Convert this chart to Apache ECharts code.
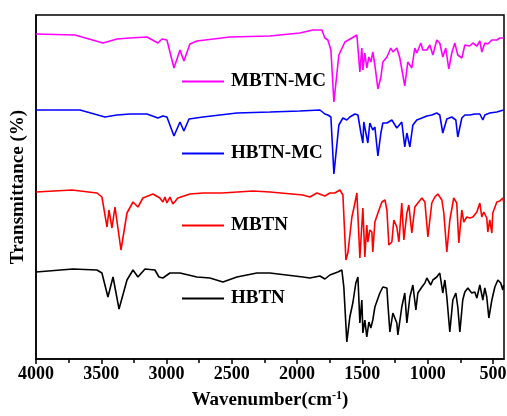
<!DOCTYPE html>
<html>
<head>
<meta charset="utf-8">
<script src="https://cdn.jsdelivr.net/npm/echarts@6/dist/echarts.min.js"></script>
<style>html,body{margin:0;padding:0;background:#fff}#c{width:507px;height:416px}</style>
</head>
<body>
<div id="c"></div>
<script>
// Wavenumber (cm-1) ticks
const majorTicks = [500, 1000, 1500, 2000, 2500, 3000, 3500, 4000];
const minorTicks = [750, 1250, 1750, 2250, 2750, 3250, 3750];
const seriesNames = ['MBTN-MC', 'HBTN-MC', 'MBTN', 'HBTN'];

// [wavenumber, transmittance (arbitrary offset units)]
const mbtnMC = [[4000,325],[3701,324],[3487,316],[3380,320],[3280,321],[3150,322],[3066,316],[3035,320],[2997,319],[2943,291],[2897,309],[2867,298],[2821,315],[2767,318],[2515,322],[2208,323],[1979,326],[1879,329],[1810,329],[1787,321],[1764,319],[1741,309],[1718,257],[1680,304],[1634,317],[1580,321],[1542,324],[1519,287],[1504,311],[1496,289],[1481,306],[1466,291],[1450,302],[1435,297],[1420,307],[1404,294],[1381,270],[1358,282],[1343,297],[1312,302],[1282,311],[1266,307],[1236,311],[1213,301],[1175,273],[1152,297],[1121,291],[1098,311],[1083,306],[1052,316],[1037,309],[1006,309],[983,314],[960,304],[930,319],[907,316],[884,302],[861,311],[838,290],[815,306],[792,316],[769,304],[738,301],[715,314],[677,313],[654,316],[623,313],[600,318],[585,307],[562,316],[539,315],[508,319],[470,319],[447,321],[418,321]];

const hbtnMC = [[4000,249],[3663,249],[3472,242],[3380,244],[3280,245],[3150,245],[3066,241],[3028,243],[2997,242],[2943,223],[2897,237],[2867,228],[2828,240],[2721,242],[2461,246],[2208,247],[1979,248],[1825,249],[1787,245],[1764,244],[1741,242],[1718,185],[1680,234],[1649,241],[1619,239],[1596,242],[1557,245],[1534,244],[1511,226],[1496,216],[1489,237],[1473,226],[1458,216],[1443,236],[1420,229],[1404,232],[1381,203],[1358,226],[1343,236],[1312,236],[1274,239],[1236,231],[1198,237],[1175,212],[1159,226],[1136,212],[1113,234],[1083,239],[1044,241],[1006,243],[968,244],[930,246],[907,244],[884,226],[853,240],[815,242],[784,239],[769,222],[738,241],[715,244],[677,244],[639,245],[600,245],[577,239],[562,244],[524,246],[470,247],[418,249]];

const mbtn = [[4000,167],[3724,169],[3533,166],[3495,162],[3456,132],[3441,149],[3418,131],[3395,152],[3380,152],[3349,109],[3303,146],[3257,157],[3219,152],[3181,161],[3104,165],[3051,161],[3028,157],[3012,162],[2997,156],[2974,162],[2951,155],[2913,161],[2821,165],[2721,166],[2576,166],[2338,168],[2208,167],[1956,164],[1902,162],[1848,166],[1787,163],[1749,166],[1711,166],[1672,169],[1649,164],[1626,99],[1611,106],[1580,142],[1557,156],[1542,166],[1519,101],[1496,151],[1481,102],[1466,134],[1458,117],[1443,129],[1427,127],[1420,107],[1404,137],[1381,146],[1350,157],[1327,159],[1312,149],[1297,114],[1274,117],[1259,139],[1236,132],[1220,117],[1198,156],[1182,119],[1159,146],[1144,154],[1121,126],[1098,152],[1075,156],[1044,161],[1021,157],[998,122],[968,156],[945,162],[922,165],[891,159],[876,146],[853,107],[830,139],[800,161],[777,156],[761,116],[738,149],[723,137],[700,142],[677,141],[654,142],[623,147],[600,156],[585,142],[570,147],[547,141],[539,127],[524,139],[508,126],[501,146],[470,157],[447,158],[424,161],[418,157]];

const hbtn = [[4000,87],[3717,90],[3533,89],[3495,86],[3449,62],[3410,82],[3364,50],[3303,79],[3257,89],[3219,82],[3165,90],[3089,89],[3058,82],[3028,81],[2974,86],[2897,86],[2767,82],[2668,81],[2568,77],[2461,82],[2308,86],[2208,86],[1956,82],[1902,81],[1825,83],[1787,80],[1749,84],[1688,87],[1657,89],[1642,72],[1619,17],[1596,42],[1573,56],[1550,76],[1534,82],[1519,36],[1504,59],[1496,26],[1481,39],[1466,22],[1450,37],[1435,31],[1420,39],[1404,52],[1389,54],[1366,66],[1343,72],[1312,71],[1305,56],[1289,27],[1266,46],[1236,36],[1228,24],[1198,52],[1175,66],[1159,36],[1136,62],[1113,74],[1090,49],[1075,66],[1044,72],[1021,76],[1006,81],[976,74],[960,79],[930,82],[907,86],[884,66],[868,79],[853,62],[830,27],[807,59],[784,66],[769,52],[753,27],[731,59],[715,67],[692,71],[662,66],[639,67],[623,61],[600,74],[577,59],[562,71],[547,62],[531,41],[508,59],[485,72],[462,79],[440,76],[424,69],[418,74]];

const seriesData = [mbtnMC, hbtnMC, mbtn, hbtn];
const colors = ['#FF00FF', '#0000FF', '#FF0000', '#000000'];
const legendTops = [72, 144, 216, 289];

const FONT = '"Liberation Serif", "Times New Roman", serif';

const chart = echarts.init(document.getElementById('c'), null, {renderer: 'canvas'});
const option = {
  animation: false,
  backgroundColor: '#fff',
  grid: {left: 36, right: 3, top: 15, bottom: 57, containLabel: false, outerBoundsMode: 'none',
    show: true, borderColor: '#000', borderWidth: 1.5, backgroundColor: 'transparent'},
  legend: seriesNames.map((n, i) => ({
    data: [n], left: 182, top: legendTops[i], padding: 0,
    icon: 'rect', itemWidth: 42, itemHeight: 2, itemGap: 6,
    itemStyle: {color: colors[i], borderWidth: 0},
    textStyle: {fontFamily: FONT, fontWeight: 'bold', fontSize: 19, color: '#000', padding: [0,0,0,2]}
  })),
  xAxis: [{
    type: 'value', min: 415, max: 4000, inverse: true,
    name: 'Wavenumber(cm{sup|-1})', nameLocation: 'middle', nameGap: 31,
    nameTextStyle: {fontFamily: FONT, fontWeight: 'bold', fontSize: 19, color: '#000',
      rich: {sup: {fontFamily: FONT, fontWeight: 'bold', fontSize: 12, verticalAlign: 'top', padding: [0,0,8,0], color: '#000'}}},
    axisLine: {show: true, lineStyle: {color: '#000', width: 1.5}},
    axisTick: {show: true, inside: false, length: 5, lineStyle: {color: '#000', width: 1.5}, customValues: majorTicks},
    axisLabel: {show: true, margin: 6, fontFamily: FONT, fontWeight: 'bold', fontSize: 18, color: '#000',
      customValues: majorTicks, formatter: v => String(v), hideOverlap: false},
    splitLine: {show: false}
  }, {
    type: 'value', min: 415, max: 4000, inverse: true, position: 'bottom', offset: 0,
    axisLine: {show: false, onZero: false},
    axisTick: {show: true, inside: false, length: 4, lineStyle: {color: '#000', width: 1.5}, customValues: minorTicks},
    axisLabel: {show: false},
    splitLine: {show: false}
  }],
  yAxis: {
    type: 'value', min: 0, max: 344,
    name: 'Transmittance (%)', nameLocation: 'middle', nameGap: 8,
    nameTextStyle: {fontFamily: FONT, fontWeight: 'bold', fontSize: 19, color: '#000'},
    axisLine: {show: true, lineStyle: {color: '#000', width: 1.5}},
    axisTick: {show: false}, axisLabel: {show: false}, splitLine: {show: false}
  },
  series: seriesNames.map((n, i) => ({
    name: n, type: 'line', data: seriesData[i], xAxisIndex: 0,
    symbol: 'none', showSymbol: false,
    lineStyle: {color: colors[i], width: 1.6}, itemStyle: {color: colors[i]},
    z: 2 + i
  }))
};
chart.setOption(option);
</script>
</body>
</html>
